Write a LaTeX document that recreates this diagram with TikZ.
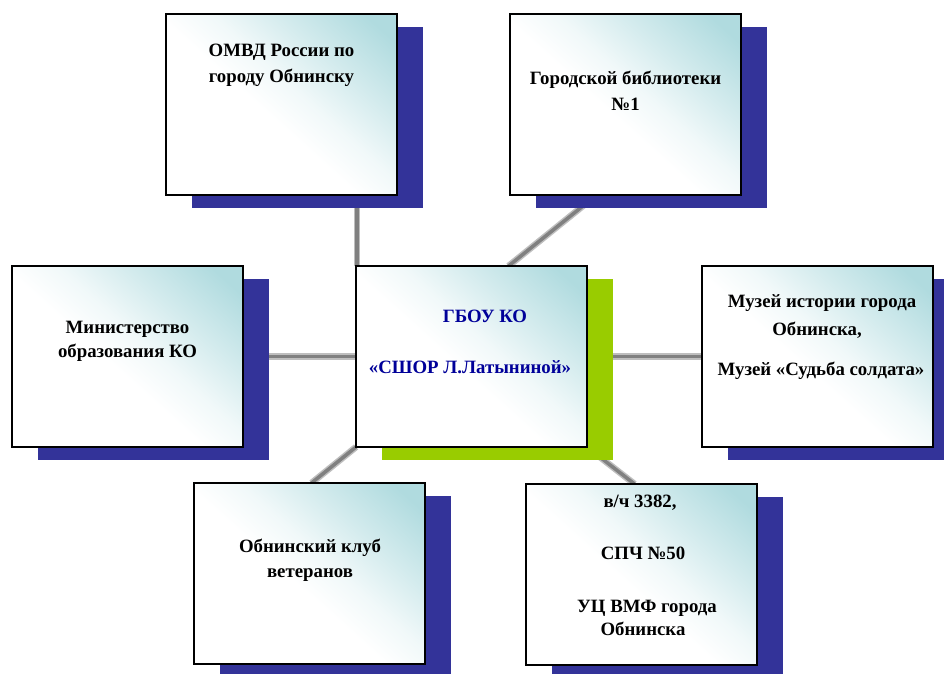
\documentclass[tikz,border=0pt]{standalone}
\usepackage{fontspec}
\setmainfont{Liberation Serif}
\usetikzlibrary{calc}
\definecolor{shadowblue}{RGB}{51,51,153}
\definecolor{shadowgreen}{RGB}{153,204,0}
\definecolor{boxteal}{RGB}{176,219,223}
\definecolor{textblue}{RGB}{0,0,153}
\definecolor{linecore}{RGB}{128,128,128}
\definecolor{lineedge}{RGB}{190,190,190}
\pgfdeclareverticalshading{boxgrad}{100bp}{color(0bp)=(white); color(46bp)=(white); color(55bp)=(boxteal!18!white); color(66bp)=(boxteal!55!white); color(80bp)=(boxteal); color(100bp)=(boxteal)}
\pgfdeclarelayer{paper}
\pgfdeclarelayer{lines}
\pgfdeclarelayer{shadows}
\pgfsetlayers{paper,lines,shadows,main}
\tikzset{
  orgbox/.style={draw=black, line width=2pt, minimum width=231pt, minimum height=181pt,
    anchor=north west, inner sep=0pt, outer sep=0pt,
    shading=boxgrad, shading angle=-42},
  linetext/.style={anchor=base, inner sep=0pt, font=\bfseries\fontsize{18.8}{22}\selectfont},
  centertext/.style={linetext, text=textblue},
  connedge/.style={line width=6.5pt, draw=lineedge},
  conncore/.style={line width=3.5pt, draw=linecore},
}
\begin{document}
\begin{tikzpicture}[x=1pt, y=-1pt]
\useasboundingbox (0,0) rectangle (944,673);
\begin{pgfonlayer}{paper}
  \fill[white] (0,0) rectangle (944,673);
\end{pgfonlayer}

% boxes
\node[orgbox] (b1) at (166,14) {};
\node[orgbox] (b2) at (510,14) {};
\node[orgbox] (b3) at (12,266) {};
\node[orgbox] (c)  at (356,266) {};
\node[orgbox] (b5) at (702,266) {};
\node[orgbox] (b6) at (194,483) {};
\node[orgbox] (b7) at (526,484) {};

% shadows
\begin{pgfonlayer}{shadows}
  \begin{scope}
    \clip (0,0) rectangle (944,673);
    \foreach \n in {b1,b2,b3,b5,b6,b7}{
      \fill[shadowblue] ($(\n.north west)+(26,13)$) rectangle ($(\n.south east)+(26,13)$);
    }
    \fill[shadowgreen] ($(c.north west)+(26,13)$) rectangle ($(c.south east)+(26,13)$);
  \end{scope}
\end{pgfonlayer}

% connectors
\begin{pgfonlayer}{lines}
  \foreach \s in {connedge,conncore}{
    \draw[\s] ([xshift=1pt]c.north west) -- ([xshift=1pt]c.north west |- b1.south);
    \draw[\s] ([xshift=37pt]c.north) -- ([xshift=-29pt]b2.south);
    \draw[\s] (c.west) -- (b3.east);
    \draw[\s] (c.east) -- (b5.west);
    \draw[\s] (c.south west) -- ([xshift=2pt]b6.north);
    \draw[\s] (c.south east) -- ([xshift=-7pt]b7.north);
  }
\end{pgfonlayer}

% texts
\node[linetext] (t1a) at (281.5,56) {ОМВД России по};
\node[linetext] (t1b) at (281.5,82) {городу Обнинску};

\node[linetext] (t2a) at (625.5,84) {Городской библиотеки};
\node[linetext] (t2b) at (625.5,110) {№1};

\node[linetext] (t3a) at (127.5,333) {Министерство};
\node[linetext] (t3b) at (127.5,357) {образования КО};

\node[centertext] (tca) at (485,322) {ГБОУ КО};
\node[centertext] (tcb) at (470,373) {«СШОР Л.Латыниной»};

\node[linetext] (t5a) at (822,307) {Музей истории города};
\node[linetext] (t5b) at (817,335) {Обнинска,};
\node[linetext] (t5c) at (821,375) {Музей  «Судьба солдата»};

\node[linetext] (t6a) at (310,552) {Обнинский клуб};
\node[linetext] (t6b) at (310,577) {ветеранов};

\node[linetext] (t7a) at (640,507) {в/ч 3382,};
\node[linetext] (t7b) at (643,559) {СПЧ №50};
\node[linetext] (t7c) at (647,612) {УЦ ВМФ города};
\node[linetext] (t7d) at (643,635) {Обнинска};
\end{tikzpicture}
\end{document}
